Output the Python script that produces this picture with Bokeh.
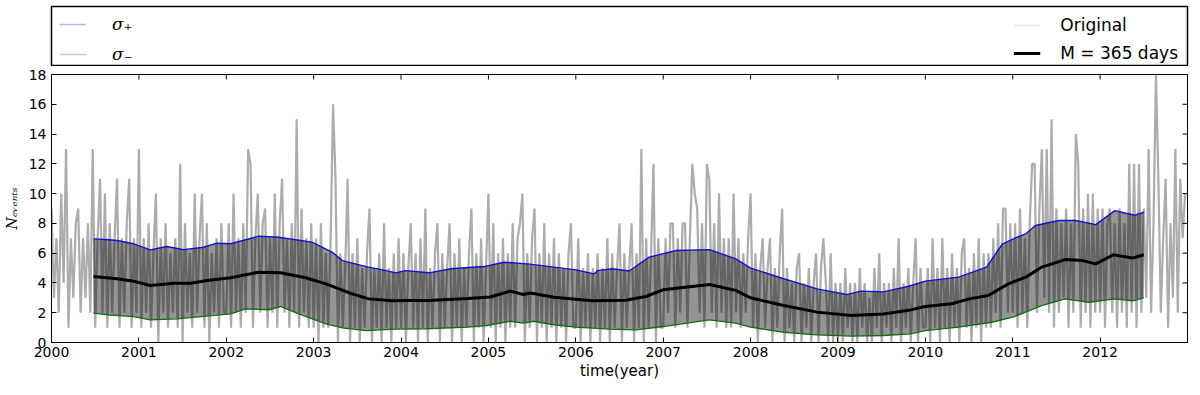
import numpy as np
from bokeh.plotting import figure
from bokeh.models import Range1d, FixedTicker, Legend, LegendItem
from bokeh.layouts import column
from bokeh.embed import file_html
from bokeh.resources import INLINE

# ---------------- data ----------------
samples_per_year = 36
original_2000 = [9, 3, 7, 2, 10, 4, 13, 1, 7, 3, 8, 9, 2, 7, 3, 8, 2, 13, 1, 7, 11, 2, 10, 1, 8, 2, 7, 11, 1, 7, 2, 8, 11, 1, 7, 2]
original_2001 = [13, 1, 7, 2, 8, 1, 6, 10, 0, 7, 2, 8, 1, 6, 2, 7, 1, 12, 0, 8, 2, 6, 1, 10, 2, 7, 10, 1, 8, 0, 6, 2, 7, 1, 8, 2]
original_2002 = [2, 8, 1, 10, 2, 7, 1, 8, 2, 13, 12, 1, 7, 10, 2, 8, 9, 1, 7, 2, 10, 1, 8, 11, 2, 7, 1, 8, 2, 15, 1, 9, 2, 7, 1, 8]
original_2003 = [1, 7, 0, 8, 1, 6, 1, 7, 16, 11, 0, 6, 1, 5, 11, 0, 6, 1, 7, 0, 5, 1, 6, 9, 0, 5, 1, 6, 0, 8, 1, 5, 0, 6, 1, 7]
original_2004 = [1, 6, 0, 5, 8, 1, 6, 0, 7, 1, 9, 0, 5, 1, 6, 8, 0, 6, 1, 5, 8, 0, 6, 1, 7, 0, 5, 1, 6, 9, 0, 6, 1, 7, 0, 5]
original_2005 = [10, 1, 8, 0, 6, 1, 7, 0, 6, 1, 8, 1, 7, 8, 10, 0, 6, 1, 7, 9, 0, 6, 1, 8, 0, 6, 1, 7, 0, 6, 1, 5, 0, 6, 8, 1]
original_2006 = [1, 7, 0, 5, 1, 6, 0, 5, 1, 6, 0, 5, 1, 7, 0, 6, 1, 5, 8, 0, 6, 1, 5, 8, 0, 6, 1, 13, 0, 7, 1, 6, 12, 0, 7, 1]
original_2007 = [1, 7, 2, 8, 8, 1, 7, 2, 8, 8, 1, 7, 12, 10, 9, 2, 8, 1, 12, 11, 2, 8, 1, 10, 2, 7, 1, 7, 1, 10, 2, 7, 1, 6, 2, 7]
original_2008 = [10, 1, 6, 0, 5, 7, 1, 5, 7, 0, 5, 1, 6, 9, 0, 5, 1, 4, 0, 5, 6, 0, 4, 1, 5, 0, 4, 6, 0, 5, 7, 4, 0, 6, 0, 4]
original_2009 = [0, 4, 0, 5, 1, 4, 0, 4, 0, 5, 1, 4, 0, 3, 0, 5, 1, 6, 0, 4, 1, 4, 0, 5, 1, 7, 0, 4, 1, 5, 0, 4, 7, 0, 5, 1]
original_2010 = [1, 5, 0, 7, 1, 5, 0, 7, 1, 5, 0, 6, 1, 5, 0, 6, 7, 1, 5, 0, 6, 1, 7, 0, 6, 1, 6, 1, 7, 2, 8, 1, 9, 9, 2, 8]
original_2011 = [2, 8, 1, 9, 2, 7, 1, 8, 12, 12, 2, 9, 13, 3, 13, 2, 15, 1, 9, 2, 8, 3, 9, 1, 8, 2, 14, 12, 1, 9, 2, 10, 1, 10, 2, 9]
original_2012 = [2, 9, 1, 8, 9, 2, 8, 1, 9, 2, 8, 1, 12, 2, 12, 1, 12, 2, 9, 3, 13, 2, 8, 18, 11, 2, 7, 11, 1, 8, 3, 13, 2, 11, 7, 10]

original_counts = (original_2000 + original_2001 + original_2002 + original_2003 + original_2004
                   + original_2005 + original_2006 + original_2007 + original_2008 + original_2009
                   + original_2010 + original_2011 + original_2012)
first_year = 2000
original_time = first_year + np.arange(len(original_counts)) / samples_per_year

sigma_plus_time = [2000.48, 2000.66, 2000.75, 2000.94, 2001.13, 2001.32, 2001.51, 2001.74, 2001.89, 2002.05,
                   2002.37, 2002.6, 2002.98, 2003.21, 2003.33, 2003.6, 2003.79, 2003.94, 2004.05, 2004.32,
                   2004.57, 2004.95, 2005.18, 2005.45, 2005.75, 2006.0, 2006.21, 2006.25, 2006.42, 2006.61,
                   2006.84, 2007.15, 2007.53, 2007.83, 2008.0, 2008.38, 2008.76, 2009.1, 2009.26, 2009.52,
                   2009.8, 2010.0, 2010.38, 2010.7, 2010.88, 2011.05, 2011.15, 2011.26, 2011.53, 2011.72,
                   2011.95, 2012.17, 2012.28, 2012.4, 2012.5]
sigma_plus = [6.96, 6.9, 6.85, 6.63, 6.22, 6.45, 6.24, 6.4, 6.67, 6.63,
              7.14, 7.07, 6.74, 6.07, 5.5, 5.1, 4.88, 4.68, 4.83, 4.68,
              4.95, 5.1, 5.39, 5.28, 5.06, 4.88, 4.61, 4.83, 4.95, 4.8,
              5.73, 6.18, 6.24, 5.62, 5.0, 4.28, 3.6, 3.22, 3.45, 3.4,
              3.76, 4.12, 4.39, 5.06, 6.6, 7.07, 7.3, 7.86, 8.19, 8.19,
              7.92, 8.86, 8.7, 8.55, 8.75]

mean_time = [2000.48, 2000.75, 2000.94, 2001.13, 2001.4, 2001.59, 2001.82, 2002.05, 2002.37, 2002.62,
             2002.91, 2003.14, 2003.44, 2003.63, 2003.9, 2004.05, 2004.32, 2004.76, 2005.02, 2005.25,
             2005.4, 2005.48, 2005.75, 2006.0, 2006.19, 2006.57, 2006.8, 2007.0, 2007.53, 2007.83,
             2008.0, 2008.38, 2008.76, 2009.15, 2009.52, 2009.83, 2010.0, 2010.3, 2010.5, 2010.72,
             2010.95, 2011.15, 2011.33, 2011.6, 2011.8, 2011.95, 2012.15, 2012.37, 2012.5]
mean_365 = [4.43, 4.28, 4.12, 3.83, 3.98, 3.98, 4.2, 4.35, 4.72, 4.68,
            4.35, 3.94, 3.27, 2.93, 2.8, 2.82, 2.82, 2.95, 3.06, 3.45,
            3.22, 3.33, 3.04, 2.9, 2.8, 2.84, 3.09, 3.54, 3.9, 3.5,
            3.0, 2.48, 2.04, 1.81, 1.92, 2.19, 2.42, 2.6, 2.93, 3.16,
            3.94, 4.39, 5.06, 5.57, 5.5, 5.28, 5.89, 5.67, 5.89]

sigma_minus_time = [2000.48, 2000.67, 2000.94, 2001.13, 2001.44, 2001.71, 2002.05, 2002.22, 2002.49, 2002.62,
                    2002.83, 2003.14, 2003.33, 2003.6, 2003.94, 2004.3, 2004.76, 2004.98, 2005.25, 2005.4,
                    2005.52, 2005.75, 2006.0, 2006.38, 2006.69, 2007.0, 2007.53, 2007.83, 2008.0, 2008.38,
                    2008.76, 2009.15, 2009.52, 2009.83, 2010.0, 2010.38, 2010.76, 2011.0, 2011.33, 2011.6,
                    2011.87, 2012.17, 2012.37, 2012.5]
sigma_minus = [1.97, 1.85, 1.74, 1.52, 1.59, 1.74, 1.92, 2.26, 2.2, 2.42,
               1.92, 1.25, 0.98, 0.8, 0.9, 0.92, 1.03, 1.14, 1.43, 1.3,
               1.43, 1.19, 1.03, 0.9, 0.85, 1.07, 1.52, 1.3, 1.03, 0.69,
               0.51, 0.43, 0.47, 0.58, 0.8, 1.03, 1.36, 1.7, 2.48, 2.93,
               2.7, 2.93, 2.8, 3.0]

year_ticks = list(range(2000, 2013))
count_ticks = list(range(0, 19, 2))
x_min, x_max = 2000, 2013
y_min, y_max = 0, 18

# ---------------- main plot ----------------
p = figure(frame_width=1136, frame_height=268,
           x_range=Range1d(x_min, x_max), y_range=Range1d(y_min, y_max),
           min_border_left=51, min_border_right=5, min_border_top=8, min_border_bottom=45,
           output_backend="svg", toolbar_location=None)
p.xgrid.visible = False
p.ygrid.visible = False
p.outline_line_color = "black"
p.outline_line_alpha = 1.0
p.outline_line_width = 1
p.background_fill_color = "white"
p.border_fill_color = "white"

p.line(original_time, original_counts, line_color="#acacac", line_width=2.2)

band_x = list(sigma_plus_time) + list(sigma_minus_time[::-1])
band_y = list(sigma_plus) + list(sigma_minus[::-1])
p.patch(band_x, band_y, fill_color="black", fill_alpha=0.42, line_color=None)

p.line(sigma_plus_time, sigma_plus, line_color="#1010d0", line_width=1.4)
p.line(sigma_minus_time, sigma_minus, line_color="#107010", line_width=1.4)
p.line(mean_time, mean_365, line_color="black", line_width=3)

# mirrored inward ticks on top and right
p.scatter(year_ticks, [y_max] * len(year_ticks), marker="dash", angle=np.pi / 2,
          size=10, line_color="black", line_width=1)
p.scatter([x_max] * len(count_ticks), count_ticks, marker="dash", angle=0,
          size=10, line_color="black", line_width=1)

for ax in (p.xaxis, p.yaxis):
    ax.major_tick_in = 5
    ax.major_tick_out = 0
    ax.minor_tick_line_color = None
    ax.axis_line_color = "black"
    ax.major_tick_line_color = "black"
    ax.major_label_text_font = "DejaVu Sans"
    ax.major_label_text_font_size = "14px"
    ax.major_label_text_color = "black"
    ax.axis_label_text_color = "black"

p.xaxis.ticker = FixedTicker(ticks=year_ticks)
p.yaxis.ticker = FixedTicker(ticks=count_ticks)
p.xaxis.major_label_standoff = 4
p.yaxis.major_label_standoff = 5
p.xaxis.axis_label = "time(year)"
p.xaxis.axis_label_text_font = "DejaVu Sans"
p.xaxis.axis_label_text_font_style = "normal"
p.xaxis.axis_label_text_font_size = "15px"
p.xaxis.axis_label_standoff = 2
p.yaxis.axis_label = "Nₑᵥₑₙₜₛ"
p.yaxis.axis_label_text_font = "DejaVu Serif"
p.yaxis.axis_label_text_font_style = "italic"
p.yaxis.axis_label_text_font_size = "14px"
p.yaxis.axis_label_standoff = 6

# ---------------- legend box ----------------
leg = figure(frame_width=1136, frame_height=60,
             x_range=Range1d(0, 1), y_range=Range1d(0, 1),
             x_axis_location=None, y_axis_location=None,
             min_border_left=51, min_border_right=5, min_border_top=6, min_border_bottom=0,
             output_backend="svg", toolbar_location=None)
leg.xgrid.visible = False
leg.ygrid.visible = False
leg.outline_line_color = "black"
leg.outline_line_alpha = 1.0
leg.outline_line_width = 1.5

# dummy renderers (outside the visible range) used only for legend glyphs
hidden = [-5, -4]
r_sp = leg.line(x=hidden, y=hidden, line_color="blue", line_alpha=0.3, line_width=1.5)
r_sm = leg.line(x=hidden, y=hidden, line_color="green", line_alpha=0.3, line_width=1.5)
r_or = leg.line(x=hidden, y=hidden, line_color="#b0b0b0", line_alpha=0.3, line_width=1.5)
r_mn = leg.line(x=hidden, y=hidden, line_color="black", line_width=3)

left_legend = Legend(items=[LegendItem(label="σ₊", renderers=[r_sp]),
                            LegendItem(label="σ₋", renderers=[r_sm])],
                     location="top_left", orientation="vertical",
                     label_text_font="DejaVu Serif", label_text_font_style="italic",
                     label_text_font_size="17px", label_text_color="black",
                     glyph_width=27, glyph_height=18, label_height=18, label_standoff=26,
                     spacing=10, padding=4, margin=8,
                     border_line_color=None, background_fill_alpha=0)
right_legend = Legend(items=[LegendItem(label="Original", renderers=[r_or]),
                             LegendItem(label="M = 365 days", renderers=[r_mn])],
                      location="top_right", orientation="vertical",
                      label_text_font="DejaVu Sans", label_text_font_size="17px",
                      label_text_color="black",
                      glyph_width=27, glyph_height=18, label_height=18, label_standoff=20,
                      spacing=8, padding=4, margin=9,
                      border_line_color=None, background_fill_alpha=0)
leg.add_layout(left_legend)
leg.add_layout(right_legend)

layout = column(leg, p)
open("out.html", "w").write(file_html(layout, INLINE))
